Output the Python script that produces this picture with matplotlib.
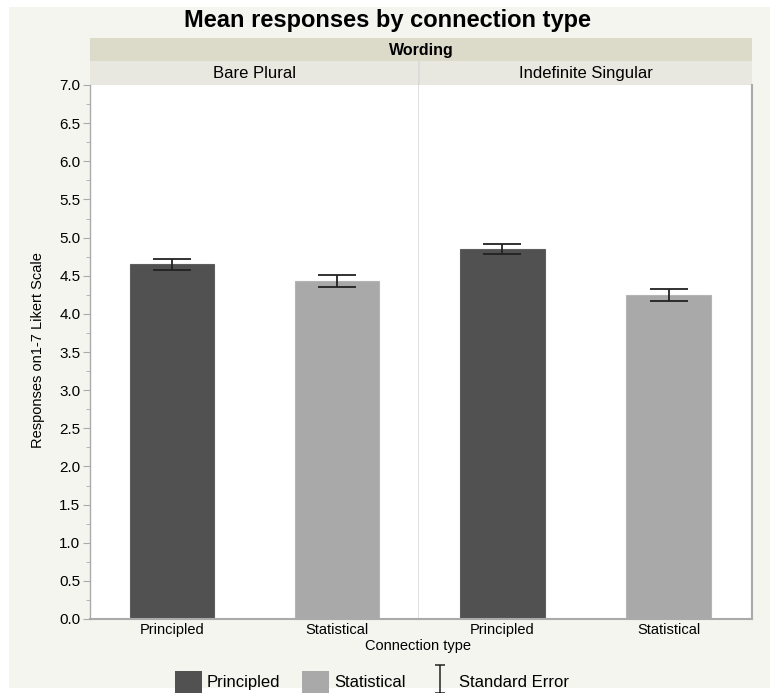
import matplotlib
matplotlib.use("Agg")
import matplotlib.pyplot as plt
from matplotlib.patches import Patch, Rectangle
from matplotlib.lines import Line2D
from matplotlib.path import Path
from matplotlib.ticker import MultipleLocator, FormatStrFormatter

plt.rcParams['font.family'] = ['Liberation Sans', 'DejaVu Sans']

# Data
wordings = ["Bare Plural", "Indefinite Singular"]
connection_types = ["Principled", "Statistical"]
means = {
    "Bare Plural": [4.65, 4.43],
    "Indefinite Singular": [4.85, 4.245],
}
std_errors = {
    "Bare Plural": [0.07, 0.075],
    "Indefinite Singular": [0.07, 0.075],
}
bar_colors = ["#515151", "#a9a9a9"]
y_ticks = [0.0, 0.5, 1.0, 1.5, 2.0, 2.5, 3.0, 3.5, 4.0, 4.5, 5.0, 5.5, 6.0, 6.5, 7.0]

W, H = 779, 693
fig = plt.figure(figsize=(W / 100, H / 100), dpi=100)
fig.patch.set_facecolor("white")

def fx(px):
    return px / W

def fy(py):
    return 1 - py / H

# panel background
fig.patches.append(Rectangle((fx(9), fy(688)), fx(770 - 9), fy(7) - fy(688),
                             transform=fig.transFigure, facecolor="#f5f5f0",
                             edgecolor="none", zorder=-5))

left, right, top, bottom, split = 90, 752, 85, 619, 419
strip_top, sub_top = 38, 61

# top "Wording" strip
fig.patches.append(Rectangle((fx(left), fy(sub_top)), fx(right - left), fy(strip_top) - fy(sub_top),
                             transform=fig.transFigure, facecolor="#dcdbca",
                             edgecolor="none", zorder=-4))
fig.text(fx((left + right) / 2), fy((strip_top + sub_top) / 2 + 0.5), "Wording",
         ha="center", va="center", fontsize=11.5, fontweight="bold")

gray = "#aaaaaa"
axes = []
for i, w in enumerate(wordings):
    x0 = left if i == 0 else split
    x1 = split if i == 0 else right
    ax = fig.add_axes([fx(x0), fy(bottom), fx(x1 - x0), fy(top) - fy(bottom)])
    ax.set_zorder(2)
    ax.set_facecolor("white")
    # sub strip
    fig.patches.append(Rectangle((fx(x0), fy(top)), fx(x1 - x0), fy(sub_top) - fy(top),
                                 transform=fig.transFigure, facecolor="#e9e8e0",
                                 edgecolor="none", zorder=-4))
    fig.text(fx((x0 + x1) / 2), fy((sub_top + top) / 2 + 0.5), w,
             ha="center", va="center", fontsize=12)

    xs = range(len(connection_types))
    ax.bar(xs, means[w], width=0.51, color=bar_colors, edgecolor=["#5e5e5e", "#b5b5b5"],
           linewidth=0.8, zorder=2)
    ax.errorbar(xs, means[w], yerr=std_errors[w], fmt="none", ecolor="#222222",
                elinewidth=1.3, capsize=14, capthick=1.3, zorder=3)
    ax.set_xlim(-0.5, 1.5)
    ax.set_ylim(0, 7)
    ax.set_xticks(list(xs))
    ax.set_xticklabels(connection_types, fontsize=10.5)
    ax.tick_params(axis="x", length=0, pad=3)
    ax.spines["top"].set_visible(False)
    ax.spines["bottom"].set_color(gray)
    ax.spines["bottom"].set_linewidth(1.5)
    if i == 0:
        ax.spines["right"].set_color("#d9d9d9")
        ax.spines["right"].set_linewidth(1.2)
        ax.spines["left"].set_color(gray)
        ax.spines["left"].set_linewidth(1.0)
        ax.set_yticks(y_ticks)
        ax.yaxis.set_major_formatter(FormatStrFormatter("%.1f"))
        ax.yaxis.set_minor_locator(MultipleLocator(0.25))
        ax.tick_params(axis="y", which="major", length=5, color=gray, labelsize=11, pad=2)
        ax.tick_params(axis="y", which="minor", length=3, color=gray)
    else:
        ax.spines["left"].set_visible(False)
        ax.spines["right"].set_color(gray)
        ax.spines["right"].set_linewidth(1.5)
        ax.set_yticks([])
    axes.append(ax)

# separator through sub strip
fig.add_artist(Line2D([fx(split), fx(split)], [fy(top), fy(sub_top)],
                      transform=fig.transFigure, color="#d9d9d9", linewidth=1.2))

fig.text(fx((left + right) / 2 - 34), fy(20), "Mean responses by connection type",
         ha="center", va="center", fontsize=17, fontweight="bold")
fig.text(fx(418), fy(646), "Connection type",
         ha="center", va="center", fontsize=10.5)
fig.text(fx(38), fy(350), "Responses on1-7 Likert Scale", rotation=90,
         ha="center", va="center", fontsize=10.5)

# legend
err_path = Path([(-0.35, -1), (0.35, -1), (0, -1), (0, 1), (-0.35, 1), (0.35, 1)],
                [Path.MOVETO, Path.LINETO, Path.MOVETO, Path.LINETO, Path.MOVETO, Path.LINETO])
handles = [
    Patch(facecolor=bar_colors[0], edgecolor="none", label="Principled"),
    Patch(facecolor=bar_colors[1], edgecolor="none", label="Statistical"),
    Line2D([], [], linestyle="none", marker=err_path, markersize=20, markeredgewidth=1.1,
           color="#222222", label="Standard Error"),
]
fig.legend(handles=handles, loc="center", bbox_to_anchor=(fx(372), fy(682)), ncol=3,
           frameon=False, fontsize=12, handlelength=1.6, handleheight=1.6,
           handletextpad=0.3, columnspacing=1.3)

fig.savefig("out.png", dpi=100, facecolor=fig.get_facecolor())
